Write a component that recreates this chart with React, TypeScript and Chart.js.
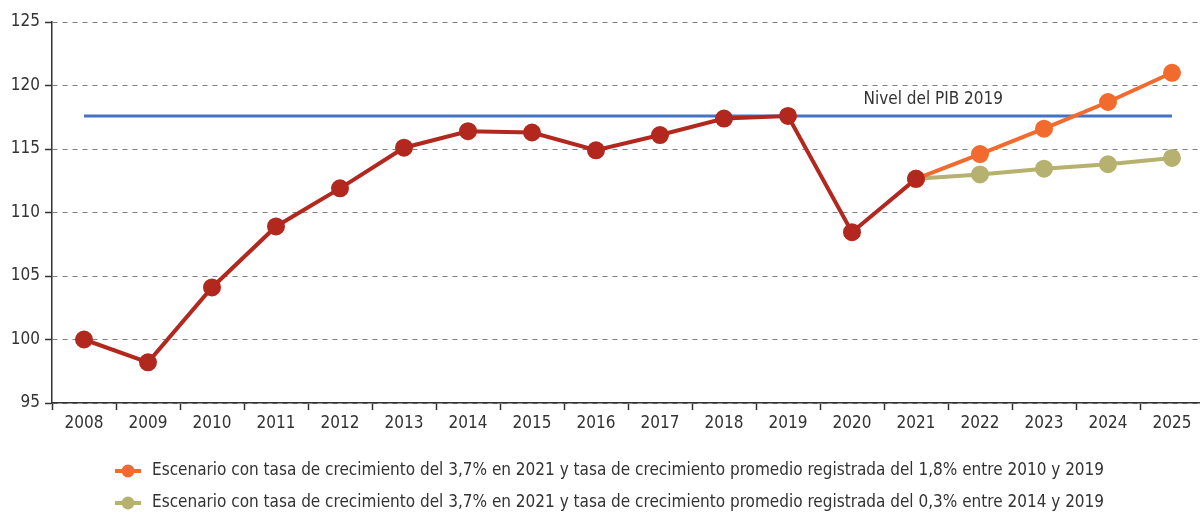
import React, { useEffect, useRef } from "react";
import { Chart, registerables } from "chart.js";

Chart.register(...registerables);

const years = ["2008","2009","2010","2011","2012","2013","2014","2015","2016","2017","2018","2019","2020","2021","2022","2023","2024","2025"];
const historico = [100, 98.2, 104.1, 108.9, 111.9, 115.1, 116.4, 116.3, 114.9, 116.1, 117.4, 117.6, 108.45, 112.65, null, null, null, null];
const escenarioAlto = [null, null, null, null, null, null, null, null, null, null, null, null, null, 112.65, 114.6, 116.6, 118.7, 121.0];
const escenarioBajo = [null, null, null, null, null, null, null, null, null, null, null, null, null, 112.65, 113.0, 113.45, 113.8, 114.3];
const nivel2019 = years.map(() => 117.6);
const labelAlto = "Escenario con tasa de crecimiento del 3,7% en 2021 y tasa de crecimiento promedio registrada del 1,8% entre 2010 y 2019";
const labelBajo = "Escenario con tasa de crecimiento del 3,7% en 2021 y tasa de crecimiento promedio registrada del 0,3% entre 2014 y 2019";
const nivelLabel = "Nivel del PIB 2019";

const FONT = "'DejaVu Sans Condensed', 'DejaVu Sans', sans-serif";
const RED = "#B3281E";
const ORANGE = "#F26A2E";
const OLIVE = "#B6B16E";
const BLUE = "#4472C4";
const TEXT = "#333333";

const overlay = {
  id: "overlay",
  afterDraw(chart: any) {
    const ctx = chart.ctx;
    const xs = chart.scales.x;
    const ys = chart.scales.y;
    ctx.save();
    ctx.font = `17px ${FONT}`;
    ctx.fillStyle = TEXT;
    ctx.textAlign = "center";
    ctx.textBaseline = "middle";
    ctx.fillText(nivelLabel, xs.getPixelForValue(13.27), ys.getPixelForValue(118.9));

    const items = [
      { label: labelAlto, color: ORANGE },
      { label: labelBajo, color: OLIVE },
    ];
    items.forEach((it, i) => {
      const y = 471 + i * 32;
      ctx.strokeStyle = it.color;
      ctx.lineWidth = 4;
      ctx.beginPath();
      ctx.moveTo(115, y);
      ctx.lineTo(141, y);
      ctx.stroke();
      ctx.fillStyle = it.color;
      ctx.beginPath();
      ctx.arc(128, y, 6.5, 0, Math.PI * 2);
      ctx.fill();
      ctx.fillStyle = TEXT;
      ctx.textAlign = "left";
      ctx.fillText(it.label, 152, y);
    });
    ctx.restore();
  },
};

export default function App() {
  const ref = useRef<HTMLCanvasElement>(null);
  useEffect(() => {
    if (!ref.current) return;
    const chart = new Chart(ref.current, {
      type: "line",
      data: {
        labels: years,
        datasets: [
          {
            label: "Histórico",
            data: historico,
            borderColor: RED,
            backgroundColor: RED,
            borderWidth: 4,
            pointRadius: 7,
            pointHoverRadius: 7,
            order: 0,
          },
          {
            label: labelAlto,
            data: escenarioAlto,
            borderColor: ORANGE,
            backgroundColor: ORANGE,
            borderWidth: 4,
            pointRadius: 7,
            order: 2,
          },
          {
            label: labelBajo,
            data: escenarioBajo,
            borderColor: OLIVE,
            backgroundColor: OLIVE,
            borderWidth: 4,
            pointRadius: 7,
            order: 3,
          },
          {
            label: nivelLabel,
            data: nivel2019,
            borderColor: BLUE,
            backgroundColor: BLUE,
            borderWidth: 3,
            pointRadius: 0,
            order: 4,
          },
        ],
      },
      options: {
        responsive: false,
        maintainAspectRatio: false,
        animation: false,
        devicePixelRatio: 1,
        layout: { padding: { top: 22, right: 2, bottom: 69, left: 0 } },
        plugins: { legend: { display: false }, tooltip: { enabled: false } },
        scales: {
          x: {
            offset: true,
            grid: {
              display: true,
              offset: true,
              drawOnChartArea: false,
              drawTicks: true,
              tickLength: 7,
              tickColor: "#333",
              tickWidth: 1.5,
            },
            border: { display: true, color: "#333", width: 1.5 },
            ticks: { color: TEXT, font: { family: FONT, size: 17 }, padding: 3, maxRotation: 0, autoSkip: false },
            afterFit(scale: any) { scale.height = 40; },
          },
          y: {
            min: 95,
            max: 125,
            grid: {
              color: "#7f7f7f",
              lineWidth: 1,
              drawTicks: true,
              tickLength: 7,
              tickColor: "#333",
              tickWidth: 1.5,
              tickBorderDash: [],
            },
            border: { display: true, color: "#333", width: 1.5, dash: [5, 5] },
            ticks: { stepSize: 5, color: TEXT, font: { family: FONT, size: 17 }, padding: 5 },
            afterFit(scale: any) { scale.width = 52; },
          },
        },
      },
      plugins: [overlay],
    });
    return () => chart.destroy();
  }, []);
  return (
    <div style={{ position: "fixed", left: 0, top: 0, width: 1215, height: 512, background: "#fff" }}>
      <canvas ref={ref} width={1215} height={512} style={{ display: "block" }} />
    </div>
  );
}
